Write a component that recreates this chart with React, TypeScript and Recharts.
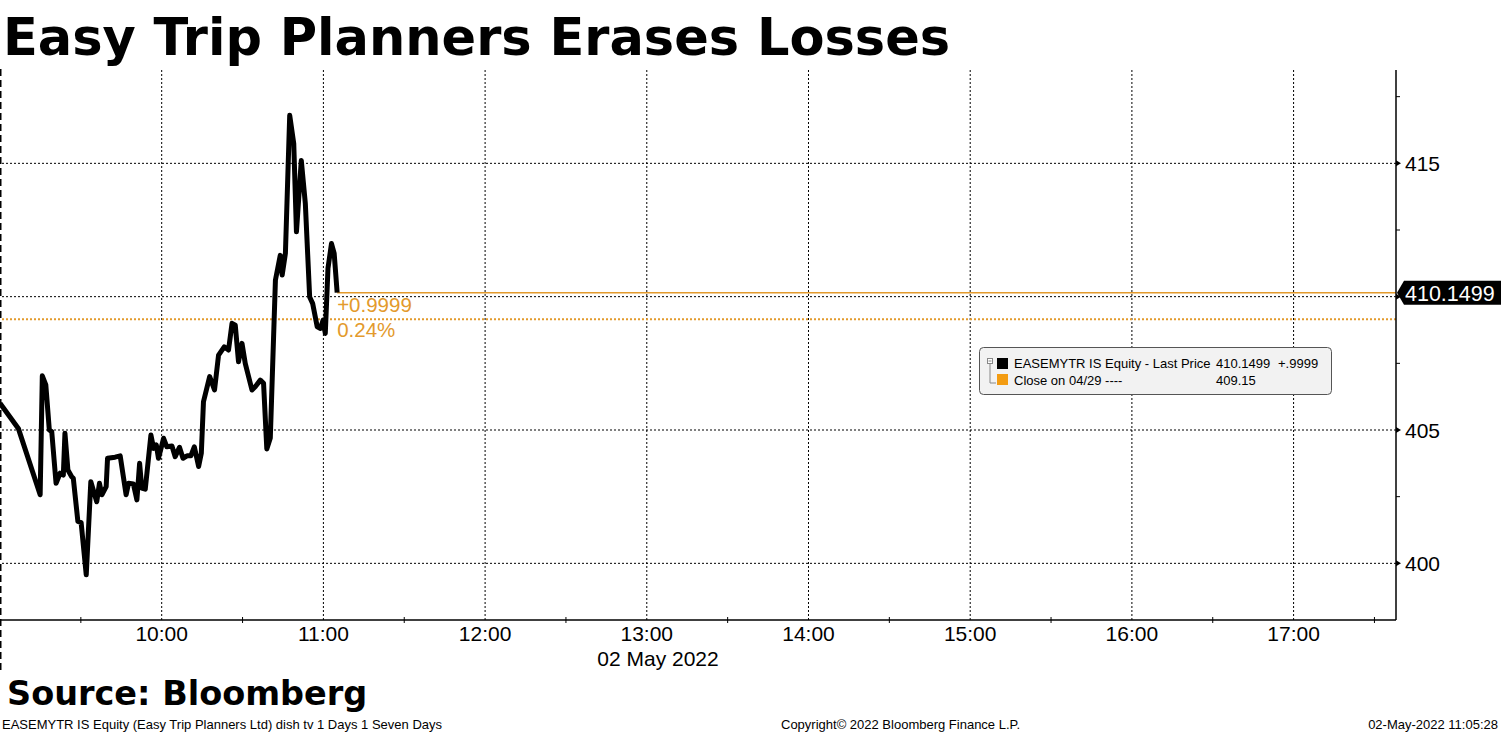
import React from "react";
import {
  LineChart,
  Line,
  XAxis,
  YAxis,
  ReferenceLine,
  ReferenceDot,
} from "recharts";

// minutes since midnight, 02 May 2022
const TIMES = [
  540.0, 546.8, 554.9, 555.7, 557.0, 558.3, 559.2, 560.8, 562.3, 563.5,
  564.1, 565.2, 566.6, 567.2, 568.9, 570.1, 572.0, 573.7, 575.9, 576.9,
  577.8, 579.4, 579.9, 582.7, 584.6, 586.8, 587.7, 589.5, 590.8, 591.8,
  592.6, 593.9, 596.0, 597.0, 598.0, 598.8, 600.7, 601.9, 603.8, 605.0,
  606.6, 607.9, 609.4, 610.8, 612.1, 613.7, 614.7, 615.5, 617.8, 619.6,
  621.1, 623.2, 624.8, 626.1, 627.3, 628.5, 629.8, 631.0, 633.5, 634.7,
  636.6, 637.8, 639.0, 640.3, 642.2, 644.0, 644.7, 645.9, 647.5, 649.0,
  650.0, 651.8, 653.3, 654.9, 656.0, 657.7, 658.9, 659.9, 660.7, 661.7,
  663.0, 664.0, 665.1,
];

const PRICES = [
  406.0, 405.06, 402.57, 407.03, 406.69, 405.0, 404.94, 403.0, 403.38, 403.31,
  404.88, 403.5, 403.25, 403.19, 401.57, 401.53, 399.57, 403.06, 402.31, 403.0,
  402.57, 402.88, 403.94, 403.98, 404.03, 402.57, 403.0, 402.98, 402.38, 403.75,
  402.82, 402.78, 404.81, 404.31, 404.44, 403.94, 404.69, 404.37, 404.4, 404.0,
  404.35, 403.94, 404.03, 404.03, 404.37, 403.63, 404.13, 406.06, 407.0, 406.5,
  407.81, 408.12, 408.0, 409.0, 408.93, 407.56, 408.25, 407.5, 406.5, 406.62,
  406.87, 406.75, 404.29, 404.7, 410.62, 411.55, 410.81, 411.62, 416.8, 415.74,
  412.43, 415.11, 413.49, 409.99, 409.75, 408.87, 408.81, 409.12, 408.62, 411.06,
  411.99, 411.62, 410.1499,
];

const TIME_TICKS = [
  570, 600, 630, 660, 690, 720, 750, 780, 810, 840, 870, 900, 930, 960, 990,
  1020, 1050,
];
const HOUR_LINES = [600, 660, 720, 780, 840, 900, 960, 1020];
const PRICE_TICKS = [400, 402.5, 405, 407.5, 410, 412.5, 415, 417.5];
const PRICE_LINES = [400, 405, 410, 415];

const LAST_PRICE = 410.1499;
const PREV_CLOSE = 409.15;
const CHANGE_LABEL = "+0.9999";
const PCT_LABEL = "0.24%";

const data = TIMES.map((t, i) => ({ t, p: PRICES[i] }));

const ORANGE = "#e39a2c";
const AXIS_FONT = "'Liberation Sans', Arial, sans-serif";
const BOLD_FONT = "'DejaVu Sans', Verdana, sans-serif";

function fmtTime(m: number) {
  const h = Math.floor(m / 60);
  return `${h}:${String(m % 60).padStart(2, "0")}`;
}

function TimeTick(props: any) {
  const { x, y, payload } = props;
  const v = payload.value;
  if (v % 60 !== 0) {
    return <line x1={x} x2={x} y1={y - 3} y2={y + 3} stroke="#000" />;
  }
  return (
    <text
      x={x}
      y={y + 21}
      textAnchor="middle"
      fontSize={21}
      fontFamily={AXIS_FONT}
      fill="#000"
    >
      {fmtTime(v)}
    </text>
  );
}

function PriceTick(props: any) {
  const { x, y, payload } = props;
  const v = payload.value;
  if (v % 5 !== 0) {
    return <line x1={x} x2={x + 4} y1={y} y2={y} stroke="#000" />;
  }
  return (
    <g>
      <path d={`M${x},${y - 3}L${x + 5},${y}L${x},${y + 3}Z`} fill="#000" />
      {v !== 410 && (
        <text
          x={x + 9}
          y={y + 8}
          fontSize={21}
          fontFamily={AXIS_FONT}
          fill="#000"
        >
          {v}
        </text>
      )}
    </g>
  );
}

function ChangeNote(props: any) {
  const { cx, cy } = props;
  return (
    <g>
      <text x={cx} y={cy + 19} fontSize={20.5} fontFamily={AXIS_FONT} fill={ORANGE}>
        {CHANGE_LABEL}
      </text>
      <text x={cx} y={cy + 44} fontSize={20.5} fontFamily={AXIS_FONT} fill={ORANGE}>
        {PCT_LABEL}
      </text>
    </g>
  );
}

function PriceTag(props: any) {
  const { cx, cy } = props;
  return (
    <g>
      <path
        d={`M${cx + 1},${cy}L${cx + 8},${cy - 12}L1501,${cy - 12}L1501,${cy + 12}L${cx + 8},${cy + 12}Z`}
        fill="#000"
      />
      <text
        x={cx + 9}
        y={cy + 8}
        fontSize={21.5}
        fontFamily={AXIS_FONT}
        fill="#fff"
      >
        {LAST_PRICE.toFixed(4)}
      </text>
    </g>
  );
}

export default function App() {
  const legendFont = { fontSize: 13, fontFamily: AXIS_FONT, fill: "#000" };
  const footFont = { fontSize: 13, fontFamily: AXIS_FONT, fill: "#000" };
  return (
    <div
      style={{
        position: "absolute",
        left: 0,
        top: 0,
        width: 1501,
        height: 734,
        background: "#fff",
      }}
    >
      <LineChart
        width={1501}
        height={734}
        data={data}
        margin={{ top: 70, right: 0, bottom: 0, left: 0 }}
      >
        <XAxis
          dataKey="t"
          type="number"
          domain={[540, 1058]}
          ticks={TIME_TICKS}
          tick={<TimeTick />}
          tickLine={false}
          tickSize={0}
          tickMargin={0}
          axisLine={{ stroke: "#000", strokeWidth: 1.5 }}
          height={114}
          interval={0}
          allowDataOverflow
        />
        <YAxis
          type="number"
          orientation="right"
          domain={[397.875, 418.5]}
          ticks={PRICE_TICKS}
          tick={<PriceTick />}
          tickLine={false}
          tickSize={0}
          tickMargin={0}
          axisLine={{ stroke: "#000", strokeWidth: 1.5 }}
          width={105}
          interval={0}
          allowDataOverflow
        />
        {PRICE_LINES.map((v) => (
          <ReferenceLine
            key={`h${v}`}
            y={v}
            stroke="#000"
            strokeDasharray="2 2"
            strokeWidth={1}
          />
        ))}
        {HOUR_LINES.map((v) => (
          <ReferenceLine
            key={`v${v}`}
            x={v}
            stroke="#000"
            strokeDasharray="2 2"
            strokeWidth={1}
          />
        ))}
        <ReferenceLine
          y={PREV_CLOSE}
          stroke={ORANGE}
          strokeDasharray="2 2"
          strokeWidth={2}
        />
        <ReferenceLine
          segment={[
            { x: TIMES[TIMES.length - 1], y: LAST_PRICE },
            { x: 1058, y: LAST_PRICE },
          ]}
          stroke={ORANGE}
          strokeWidth={1.5}
        />
        <Line
          dataKey="p"
          type="linear"
          stroke="#000"
          strokeWidth={5}
          strokeLinejoin="round"
          dot={false}
          activeDot={false}
          isAnimationActive={false}
        />
        <ReferenceDot
          x={TIMES[TIMES.length - 1]}
          y={LAST_PRICE}
          r={0}
          ifOverflow="visible"
          shape={<ChangeNote />}
        />
        <ReferenceDot
          x={1058}
          y={LAST_PRICE}
          r={0}
          ifOverflow="visible"
          shape={<PriceTag />}
        />
      </LineChart>

      <svg
        width={1501}
        height={734}
        style={{ position: "absolute", left: 0, top: 0, pointerEvents: "none" }}
      >
        <line
          x1={0.75}
          x2={0.75}
          y1={69}
          y2={670}
          stroke="#000"
          strokeWidth={1.5}
          strokeDasharray="7 4"
        />
        <text
          x={3}
          y={55}
          fontSize={51}
          fontWeight="bold"
          fontFamily={BOLD_FONT}
          fill="#000"
        >
          Easy Trip Planners Erases Losses
        </text>
        <text
          x={658}
          y={666}
          textAnchor="middle"
          fontSize={21}
          fontFamily={AXIS_FONT}
          fill="#000"
        >
          02 May 2022
        </text>
        <text
          x={7}
          y={705}
          fontSize={33.5}
          fontWeight="bold"
          fontFamily={BOLD_FONT}
          fill="#000"
        >
          Source: Bloomberg
        </text>
        <text x={2} y={729} {...footFont}>
          EASEMYTR IS Equity (Easy Trip Planners Ltd) dish tv 1 Days 1 Seven Days
        </text>
        <text x={781} y={729} {...footFont}>
          Copyright© 2022 Bloomberg Finance L.P.
        </text>
        <text x={1498} y={729} textAnchor="end" {...footFont}>
          02-May-2022 11:05:28
        </text>

        <g>
          <rect
            x={979.5}
            y={347.5}
            width={352}
            height={47}
            rx={4}
            fill="#f2f2f2"
            stroke="#555"
          />
          <rect x={987.5} y={358.5} width={5} height={5} fill="#fff" stroke="#888" />
          <line x1={988.5} x2={991.5} y1={361} y2={361} stroke="#888" />
          <path d="M990,364V383H996" fill="none" stroke="#888" />
          <rect x={997} y={358} width={11} height={11} fill="#000" />
          <rect x={997} y={374} width={11} height={11} fill="#f39c12" />
          <text x={1014} y={368} {...legendFont}>
            EASEMYTR IS Equity - Last Price
          </text>
          <text x={1216} y={368} {...legendFont}>
            410.1499
          </text>
          <text x={1278} y={368} {...legendFont}>
            +.9999
          </text>
          <text x={1014} y={385} {...legendFont}>
            Close on 04/29 ----
          </text>
          <text x={1216} y={385} {...legendFont}>
            409.15
          </text>
        </g>
      </svg>
    </div>
  );
}
